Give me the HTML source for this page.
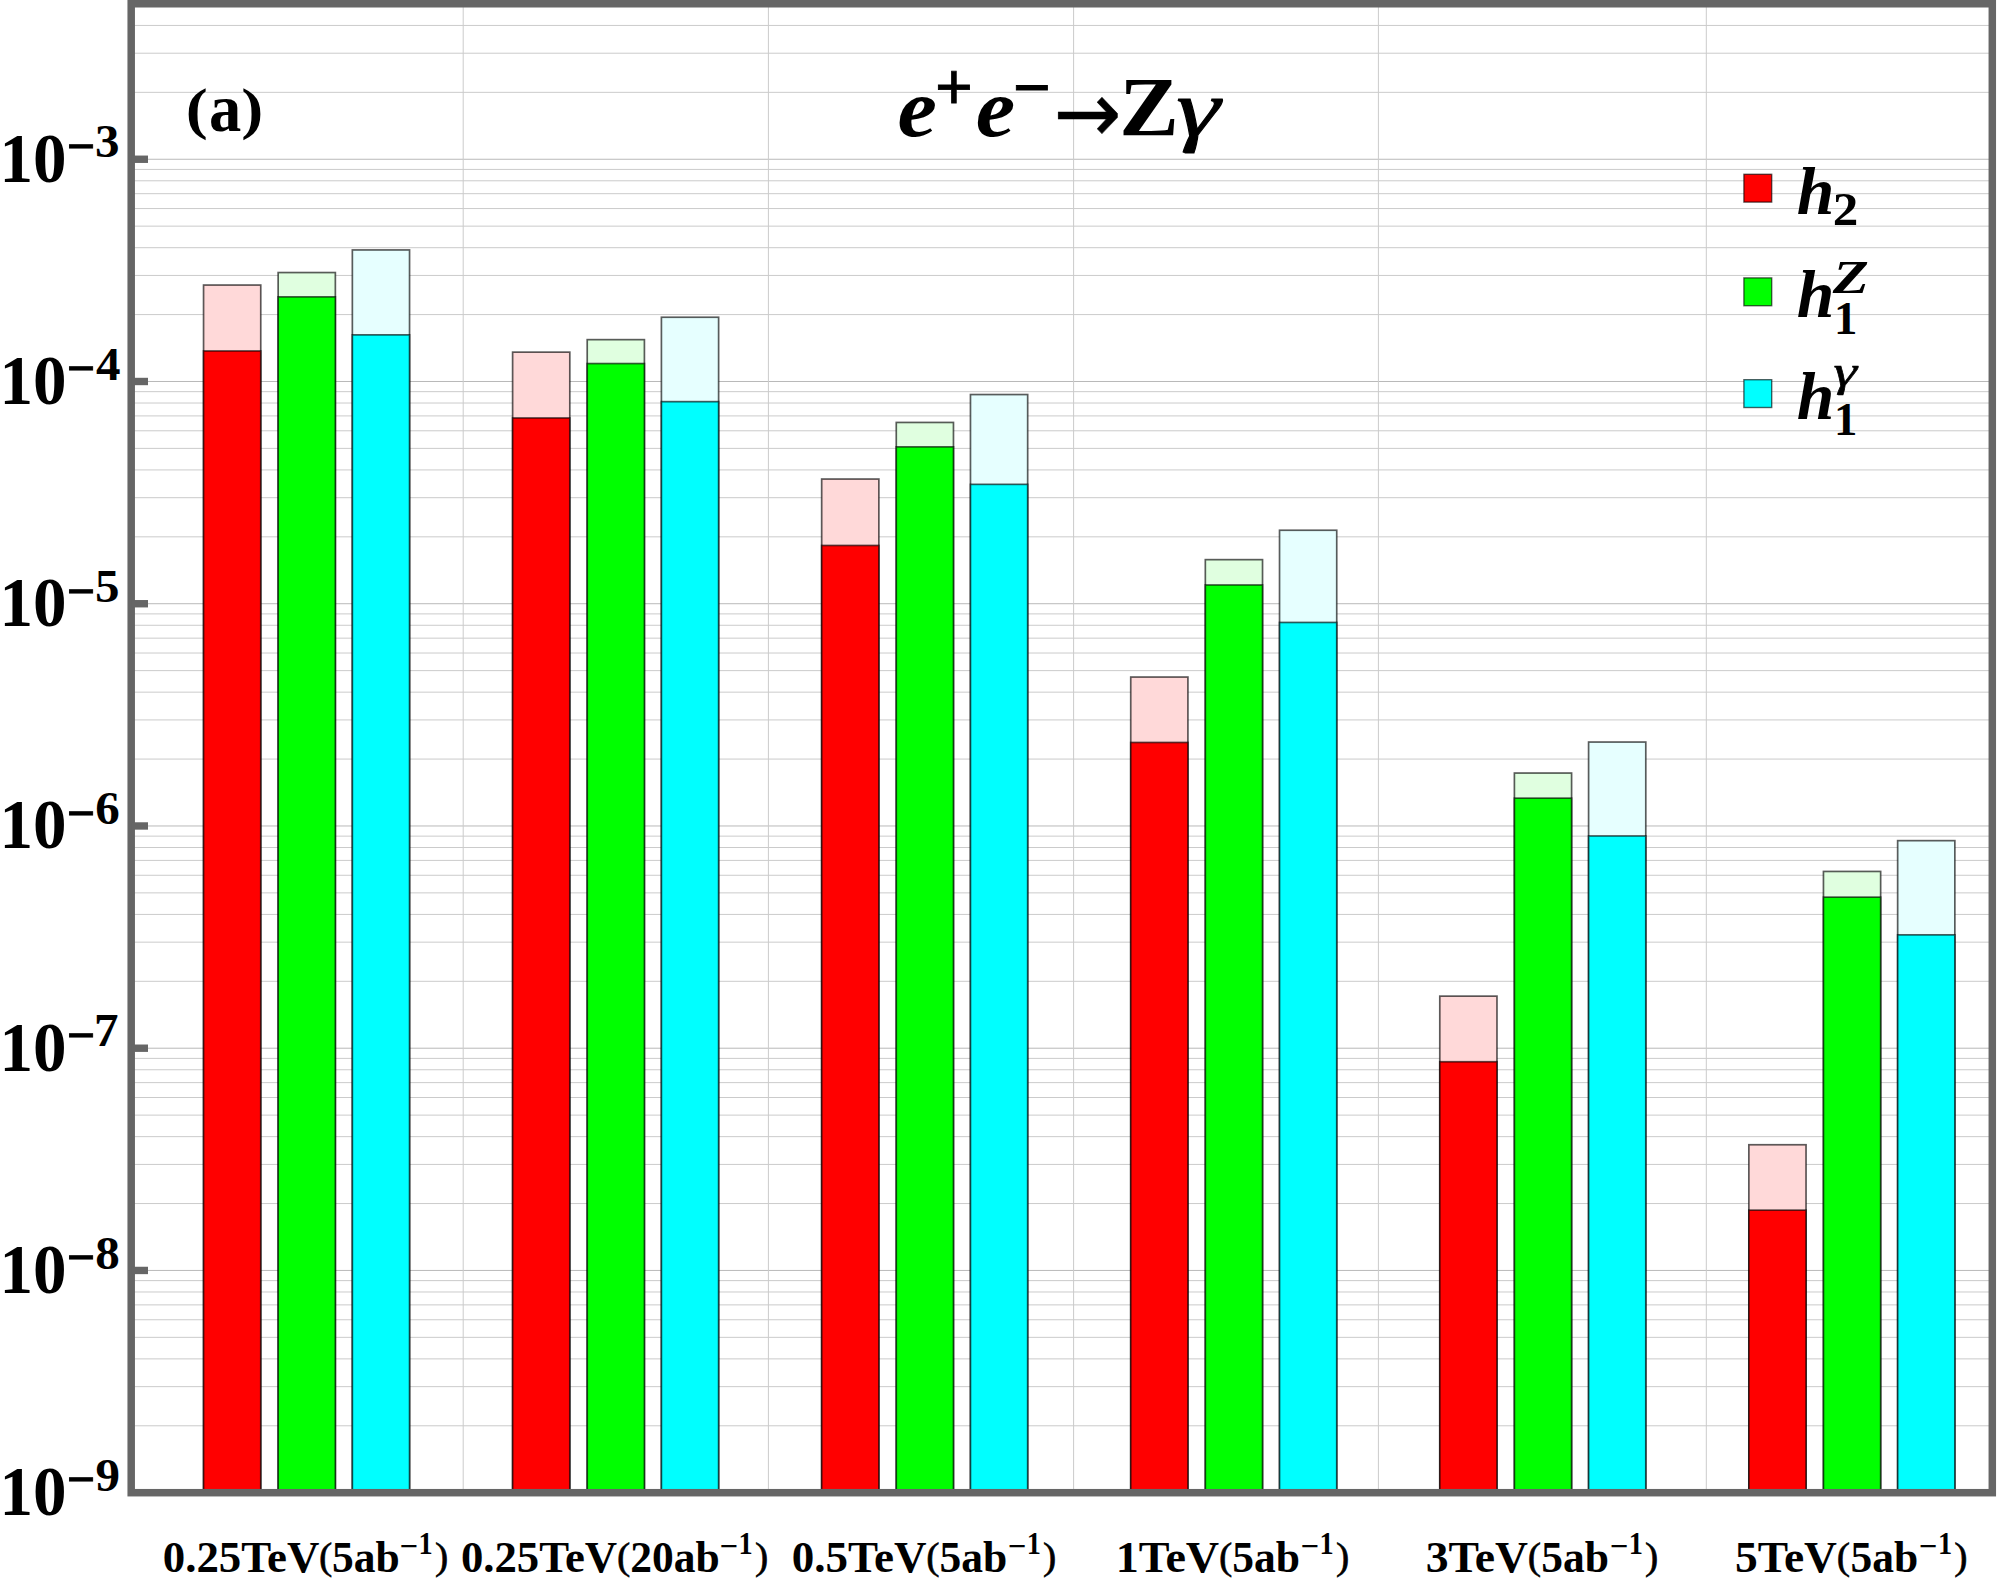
<!DOCTYPE html>
<html lang="en"><head><meta charset="utf-8"><title>e+e- to Z gamma sensitivity bar chart</title>
<style>html,body{margin:0;padding:0;background:#fff;overflow:hidden}svg{display:block}text{font-family:"Liberation Serif","DejaVu Serif",serif;font-weight:bold;fill:#000}.i{font-style:italic}.r{font-weight:normal}.s{font-family:"Liberation Sans","DejaVu Sans",sans-serif;font-weight:normal;stroke:#000}.d{font-family:"DejaVu Sans","Liberation Sans",sans-serif}</style></head><body>
<svg width="2000" height="1591" viewBox="0 0 2000 1591">
<rect x="0" y="0" width="2000" height="1591" fill="#fff"/>
<g stroke="#cbcbcb" stroke-width="1" fill="none">
<line x1="131.2" y1="1425.79" x2="1992.3" y2="1425.79"/>
<line x1="131.2" y1="1386.65" x2="1992.3" y2="1386.65"/>
<line x1="131.2" y1="1358.89" x2="1992.3" y2="1358.89"/>
<line x1="131.2" y1="1337.35" x2="1992.3" y2="1337.35"/>
<line x1="131.2" y1="1319.75" x2="1992.3" y2="1319.75"/>
<line x1="131.2" y1="1304.88" x2="1992.3" y2="1304.88"/>
<line x1="131.2" y1="1291.99" x2="1992.3" y2="1291.99"/>
<line x1="131.2" y1="1280.62" x2="1992.3" y2="1280.62"/>
<line x1="131.2" y1="1270.45" x2="1992.3" y2="1270.45" stroke="#b9b9b9"/>
<line x1="131.2" y1="1203.55" x2="1992.3" y2="1203.55"/>
<line x1="131.2" y1="1164.41" x2="1992.3" y2="1164.41"/>
<line x1="131.2" y1="1136.65" x2="1992.3" y2="1136.65"/>
<line x1="131.2" y1="1115.11" x2="1992.3" y2="1115.11"/>
<line x1="131.2" y1="1097.51" x2="1992.3" y2="1097.51"/>
<line x1="131.2" y1="1082.64" x2="1992.3" y2="1082.64"/>
<line x1="131.2" y1="1069.75" x2="1992.3" y2="1069.75"/>
<line x1="131.2" y1="1058.38" x2="1992.3" y2="1058.38"/>
<line x1="131.2" y1="1048.21" x2="1992.3" y2="1048.21" stroke="#b9b9b9"/>
<line x1="131.2" y1="981.31" x2="1992.3" y2="981.31"/>
<line x1="131.2" y1="942.17" x2="1992.3" y2="942.17"/>
<line x1="131.2" y1="914.41" x2="1992.3" y2="914.41"/>
<line x1="131.2" y1="892.87" x2="1992.3" y2="892.87"/>
<line x1="131.2" y1="875.27" x2="1992.3" y2="875.27"/>
<line x1="131.2" y1="860.40" x2="1992.3" y2="860.40"/>
<line x1="131.2" y1="847.51" x2="1992.3" y2="847.51"/>
<line x1="131.2" y1="836.14" x2="1992.3" y2="836.14"/>
<line x1="131.2" y1="825.97" x2="1992.3" y2="825.97" stroke="#b9b9b9"/>
<line x1="131.2" y1="759.07" x2="1992.3" y2="759.07"/>
<line x1="131.2" y1="719.93" x2="1992.3" y2="719.93"/>
<line x1="131.2" y1="692.17" x2="1992.3" y2="692.17"/>
<line x1="131.2" y1="670.63" x2="1992.3" y2="670.63"/>
<line x1="131.2" y1="653.03" x2="1992.3" y2="653.03"/>
<line x1="131.2" y1="638.16" x2="1992.3" y2="638.16"/>
<line x1="131.2" y1="625.27" x2="1992.3" y2="625.27"/>
<line x1="131.2" y1="613.90" x2="1992.3" y2="613.90"/>
<line x1="131.2" y1="603.73" x2="1992.3" y2="603.73" stroke="#b9b9b9"/>
<line x1="131.2" y1="536.83" x2="1992.3" y2="536.83"/>
<line x1="131.2" y1="497.69" x2="1992.3" y2="497.69"/>
<line x1="131.2" y1="469.93" x2="1992.3" y2="469.93"/>
<line x1="131.2" y1="448.39" x2="1992.3" y2="448.39"/>
<line x1="131.2" y1="430.79" x2="1992.3" y2="430.79"/>
<line x1="131.2" y1="415.92" x2="1992.3" y2="415.92"/>
<line x1="131.2" y1="403.03" x2="1992.3" y2="403.03"/>
<line x1="131.2" y1="391.66" x2="1992.3" y2="391.66"/>
<line x1="131.2" y1="381.49" x2="1992.3" y2="381.49" stroke="#b9b9b9"/>
<line x1="131.2" y1="314.59" x2="1992.3" y2="314.59"/>
<line x1="131.2" y1="275.45" x2="1992.3" y2="275.45"/>
<line x1="131.2" y1="247.69" x2="1992.3" y2="247.69"/>
<line x1="131.2" y1="226.15" x2="1992.3" y2="226.15"/>
<line x1="131.2" y1="208.55" x2="1992.3" y2="208.55"/>
<line x1="131.2" y1="193.68" x2="1992.3" y2="193.68"/>
<line x1="131.2" y1="180.79" x2="1992.3" y2="180.79"/>
<line x1="131.2" y1="169.42" x2="1992.3" y2="169.42"/>
<line x1="131.2" y1="159.25" x2="1992.3" y2="159.25" stroke="#b9b9b9"/>
<line x1="131.2" y1="92.35" x2="1992.3" y2="92.35"/>
<line x1="131.2" y1="53.21" x2="1992.3" y2="53.21"/>
<line x1="131.2" y1="25.45" x2="1992.3" y2="25.45"/>
<line x1="463.2" y1="3.75" x2="463.2" y2="1492.7"/>
<line x1="768.4" y1="3.75" x2="768.4" y2="1492.7"/>
<line x1="1073.6" y1="3.75" x2="1073.6" y2="1492.7"/>
<line x1="1378.4" y1="3.75" x2="1378.4" y2="1492.7"/>
<line x1="1706.3" y1="3.75" x2="1706.3" y2="1492.7"/>
</g>
<g stroke="#000" stroke-opacity="0.64" stroke-width="1.7">
<rect x="203.55" y="285.05" width="57.20" height="1207.65" fill="#ffd9d9"/>
<rect x="203.55" y="350.95" width="57.20" height="1141.75" fill="#ff0000"/>
<rect x="278.15" y="272.55" width="57.20" height="1220.15" fill="#e0ffe0"/>
<rect x="278.15" y="296.85" width="57.20" height="1195.85" fill="#00ff00"/>
<rect x="352.35" y="249.95" width="57.20" height="1242.75" fill="#e6ffff"/>
<rect x="352.35" y="334.85" width="57.20" height="1157.85" fill="#00ffff"/>
<rect x="512.61" y="352.15" width="57.20" height="1140.55" fill="#ffd9d9"/>
<rect x="512.61" y="417.95" width="57.20" height="1074.75" fill="#ff0000"/>
<rect x="587.21" y="339.65" width="57.20" height="1153.05" fill="#e0ffe0"/>
<rect x="587.21" y="363.55" width="57.20" height="1129.15" fill="#00ff00"/>
<rect x="661.41" y="317.25" width="57.20" height="1175.45" fill="#e6ffff"/>
<rect x="661.41" y="401.65" width="57.20" height="1091.05" fill="#00ffff"/>
<rect x="821.67" y="479.05" width="57.20" height="1013.65" fill="#ffd9d9"/>
<rect x="821.67" y="545.45" width="57.20" height="947.25" fill="#ff0000"/>
<rect x="896.27" y="422.45" width="57.20" height="1070.25" fill="#e0ffe0"/>
<rect x="896.27" y="446.85" width="57.20" height="1045.85" fill="#00ff00"/>
<rect x="970.47" y="394.55" width="57.20" height="1098.15" fill="#e6ffff"/>
<rect x="970.47" y="484.35" width="57.20" height="1008.35" fill="#00ffff"/>
<rect x="1130.73" y="677.05" width="57.20" height="815.65" fill="#ffd9d9"/>
<rect x="1130.73" y="742.45" width="57.20" height="750.25" fill="#ff0000"/>
<rect x="1205.33" y="559.65" width="57.20" height="933.05" fill="#e0ffe0"/>
<rect x="1205.33" y="584.95" width="57.20" height="907.75" fill="#00ff00"/>
<rect x="1279.53" y="530.25" width="57.20" height="962.45" fill="#e6ffff"/>
<rect x="1279.53" y="622.45" width="57.20" height="870.25" fill="#00ffff"/>
<rect x="1439.79" y="996.15" width="57.20" height="496.55" fill="#ffd9d9"/>
<rect x="1439.79" y="1061.75" width="57.20" height="430.95" fill="#ff0000"/>
<rect x="1514.39" y="773.05" width="57.20" height="719.65" fill="#e0ffe0"/>
<rect x="1514.39" y="798.15" width="57.20" height="694.55" fill="#00ff00"/>
<rect x="1588.59" y="742.05" width="57.20" height="750.65" fill="#e6ffff"/>
<rect x="1588.59" y="835.95" width="57.20" height="656.75" fill="#00ffff"/>
<rect x="1748.85" y="1144.75" width="57.20" height="347.95" fill="#ffd9d9"/>
<rect x="1748.85" y="1210.15" width="57.20" height="282.55" fill="#ff0000"/>
<rect x="1823.45" y="871.45" width="57.20" height="621.25" fill="#e0ffe0"/>
<rect x="1823.45" y="897.15" width="57.20" height="595.55" fill="#00ff00"/>
<rect x="1897.65" y="840.65" width="57.20" height="652.05" fill="#e6ffff"/>
<rect x="1897.65" y="934.85" width="57.20" height="557.85" fill="#00ffff"/>
</g>
<rect x="131.2" y="3.75" width="1861.1" height="1488.95" fill="none" stroke="#666" stroke-width="7.5"/>
<g stroke="#666" stroke-width="7.4">
<line x1="131.2" y1="159.25" x2="148" y2="159.25"/>
<line x1="131.2" y1="381.49" x2="148" y2="381.49"/>
<line x1="131.2" y1="603.73" x2="148" y2="603.73"/>
<line x1="131.2" y1="825.97" x2="148" y2="825.97"/>
<line x1="131.2" y1="1048.21" x2="148" y2="1048.21"/>
<line x1="131.2" y1="1270.45" x2="148" y2="1270.45"/>
</g>
<g><text transform="translate(-0.57,181.65) scale(0.958,1)" font-size="70">10</text><text x="66.65" y="163.05" font-size="50" stroke="#000" stroke-width="0.9">−</text><text transform="translate(94.94,157.45) scale(1.06,1)" font-size="46.3">3</text></g>
<g><text transform="translate(-0.57,403.89) scale(0.958,1)" font-size="70">10</text><text x="66.65" y="385.29" font-size="50" stroke="#000" stroke-width="0.9">−</text><text transform="translate(96.00,379.69) scale(1.06,1)" font-size="46.3">4</text></g>
<g><text transform="translate(-0.57,626.13) scale(0.958,1)" font-size="70">10</text><text x="66.65" y="607.53" font-size="50" stroke="#000" stroke-width="0.9">−</text><text transform="translate(94.94,601.93) scale(1.06,1)" font-size="46.3">5</text></g>
<g><text transform="translate(-0.57,848.37) scale(0.958,1)" font-size="70">10</text><text x="66.65" y="829.77" font-size="50" stroke="#000" stroke-width="0.9">−</text><text transform="translate(95.21,824.17) scale(1.06,1)" font-size="46.3">6</text></g>
<g><text transform="translate(-0.57,1070.61) scale(0.958,1)" font-size="70">10</text><text x="66.65" y="1052.01" font-size="50" stroke="#000" stroke-width="0.9">−</text><text transform="translate(93.88,1046.41) scale(1.06,1)" font-size="46.3">7</text></g>
<g><text transform="translate(-0.57,1292.85) scale(0.958,1)" font-size="70">10</text><text x="66.65" y="1274.25" font-size="50" stroke="#000" stroke-width="0.9">−</text><text transform="translate(95.21,1268.65) scale(1.06,1)" font-size="46.3">8</text></g>
<g><text transform="translate(-0.57,1515.09) scale(0.958,1)" font-size="70">10</text><text x="66.65" y="1496.49" font-size="50" stroke="#000" stroke-width="0.9">−</text><text transform="translate(95.47,1490.89) scale(1.06,1)" font-size="46.3">9</text></g>
<g><text transform="translate(162.80,1572.40) scale(1.0314,1)" font-size="43.5">0.25TeV</text><text transform="translate(318.96,1569.40) scale(1.05,1)" font-size="38" class="r" stroke="#000" stroke-width="0.6">(</text><text x="332.05" y="1572.40" font-size="43.5">5ab</text><text x="399.45" y="1556.90" font-size="32.5">−</text><text transform="translate(418.60,1554.00) scale(0.88,1)" font-size="32.2">1</text><text transform="translate(434.89,1569.40) scale(1.05,1)" font-size="38" class="r" stroke="#000" stroke-width="0.6">)</text></g>
<g><text transform="translate(460.90,1572.40) scale(1.0294,1)" font-size="43.5">0.25TeV</text><text transform="translate(617.06,1569.40) scale(1.05,1)" font-size="38" class="r" stroke="#000" stroke-width="0.6">(</text><text x="630.35" y="1572.40" font-size="43.5">20ab</text><text x="719.45" y="1556.90" font-size="32.5">−</text><text transform="translate(738.60,1554.00) scale(0.88,1)" font-size="32.2">1</text><text transform="translate(754.89,1569.40) scale(1.05,1)" font-size="38" class="r" stroke="#000" stroke-width="0.6">)</text></g>
<g><text transform="translate(791.79,1572.40) scale(1.0356,1)" font-size="43.5">0.5TeV</text><text transform="translate(926.16,1569.40) scale(1.05,1)" font-size="38" class="r" stroke="#000" stroke-width="0.6">(</text><text x="939.55" y="1572.40" font-size="43.5">5ab</text><text x="1007.65" y="1556.90" font-size="32.5">−</text><text transform="translate(1026.80,1554.00) scale(0.88,1)" font-size="32.2">1</text><text transform="translate(1043.09,1569.40) scale(1.05,1)" font-size="38" class="r" stroke="#000" stroke-width="0.6">)</text></g>
<g><text transform="translate(1115.79,1572.40) scale(1.061,1)" font-size="43.5">1TeV</text><text transform="translate(1218.96,1569.40) scale(1.05,1)" font-size="38" class="r" stroke="#000" stroke-width="0.6">(</text><text x="1232.35" y="1572.40" font-size="43.5">5ab</text><text x="1300.45" y="1556.90" font-size="32.5">−</text><text transform="translate(1319.60,1554.00) scale(0.88,1)" font-size="32.2">1</text><text transform="translate(1335.89,1569.40) scale(1.05,1)" font-size="38" class="r" stroke="#000" stroke-width="0.6">)</text></g>
<g><text transform="translate(1425.76,1572.40) scale(1.0499,1)" font-size="43.5">3TeV</text><text transform="translate(1527.86,1569.40) scale(1.05,1)" font-size="38" class="r" stroke="#000" stroke-width="0.6">(</text><text x="1541.34" y="1572.40" font-size="43.5">5ab</text><text x="1609.65" y="1556.90" font-size="32.5">−</text><text transform="translate(1628.80,1554.00) scale(0.88,1)" font-size="32.2">1</text><text transform="translate(1645.09,1569.40) scale(1.05,1)" font-size="38" class="r" stroke="#000" stroke-width="0.6">)</text></g>
<g><text transform="translate(1734.97,1572.40) scale(1.0467,1)" font-size="43.5">5TeV</text><text transform="translate(1836.86,1569.40) scale(1.05,1)" font-size="38" class="r" stroke="#000" stroke-width="0.6">(</text><text x="1850.40" y="1572.40" font-size="43.5">5ab</text><text x="1918.85" y="1556.90" font-size="32.5">−</text><text transform="translate(1938.00,1554.00) scale(0.88,1)" font-size="32.2">1</text><text transform="translate(1954.29,1569.40) scale(1.05,1)" font-size="38" class="r" stroke="#000" stroke-width="0.6">)</text></g>
<g><text transform="translate(185.65,128.20) scale(1.14,1)" font-size="58">(</text><text transform="translate(208.96,131.40) scale(0.95,1)" font-size="68">a</text><text transform="translate(241.31,128.20) scale(1.14,1)" font-size="58">)</text></g>
<g><text transform="translate(897.56,136.20) scale(1.07,1)" font-size="83" class="i">e</text><text x="935.35" y="108.50" font-size="64" class="s" stroke-width="0.9">+</text><text transform="translate(975.66,136.20) scale(1.07,1)" font-size="83" class="i">e</text><text x="1013.35" y="108.50" font-size="64" class="s" stroke-width="0.9">−</text><text transform="translate(1053.56,141.90) scale(0.955,1)" font-size="85" class="d r" stroke="#000" stroke-width="0.45">→</text><text transform="translate(1119.15,136.20) scale(1.063,1)" font-size="84">Z</text><text transform="translate(1176.30,136.20) scale(1.4,1)" font-size="79.4" class="i r" stroke="#000" stroke-width="0.9">γ</text></g>
<rect x="1743.90" y="174.30" width="27.8" height="27.8" fill="#ff0000" stroke="#000" stroke-opacity="0.62" stroke-width="1.4"/>
<rect x="1743.90" y="277.90" width="27.8" height="27.8" fill="#00ff00" stroke="#000" stroke-opacity="0.62" stroke-width="1.4"/>
<rect x="1743.90" y="379.70" width="27.8" height="27.8" fill="#00ffff" stroke="#000" stroke-opacity="0.62" stroke-width="1.4"/>
<g><text x="1796.75" y="214.20" font-size="67.7" class="i">h</text><text transform="translate(1832.82,225.00) scale(1.09,1)" font-size="46.9">2</text></g>
<g><text x="1796.75" y="317.20" font-size="67.7" class="i">h</text><text transform="translate(1832.80,293.00) scale(1.247,1)" font-size="47.3" class="i">Z</text><text transform="translate(1834.09,334.00) scale(0.99,1)" font-size="47.2">1</text></g>
<g><text x="1796.75" y="418.80" font-size="67.7" class="i">h</text><text transform="translate(1833.48,385.75) scale(1.36,1)" font-size="43.8" class="i r" stroke="#000" stroke-width="0.6">γ</text><text transform="translate(1834.09,435.00) scale(0.99,1)" font-size="47.2">1</text></g>
</svg></body></html>
